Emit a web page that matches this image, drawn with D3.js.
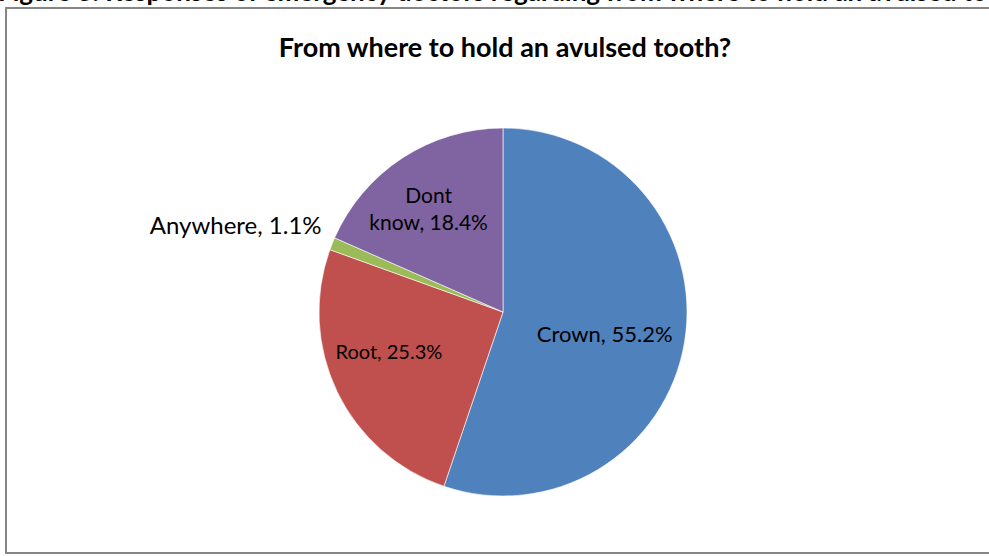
<!DOCTYPE html>
<html>
<head>
<meta charset="utf-8">
<script src="https://cdn.jsdelivr.net/npm/d3@7"></script>
<style>
  body { margin: 0; background: #fff; }
  svg { display: block; font-family: Lato, "Open Sans", sans-serif; }
</style>
</head>
<body>
<svg id="drawing_region"></svg>
<script>
// values
const categories = ["Crown", "Root", "Anywhere", "Dont know"];
const percents = [55.2, 25.3, 1.1, 18.4];
const colors = ["#4f81bd", "#c0504d", "#9bbb59", "#8064a2"];

const chartTitle = "From where to hold an avulsed tooth?";
const figureCaption = "Figure 3: Responses of emergency doctors regarding from where to hold an avulsed tooth";

class PieChart {

    constructor( config, data ) {
        this.config = config;
        this.data = data;
        this.init();
    }

    init() {
        let self = this;

        self.svg = d3.select( self.config.parent )
            .attr('width', self.config.width)
            .attr('height', self.config.height);

        // caption of the document page, cut off at the top edge
        self.svg.append('text')
            .attr('x', -2)
            .attr('y', 1)
            .attr('font-weight', 'bold')
            .attr('font-size', '26px')
            .text(figureCaption);

        // chart area border
        self.svg.append('rect')
            .attr('x', 6)
            .attr('y', 8)
            .attr('width', 1000)
            .attr('height', 545)
            .attr('fill', 'none')
            .attr('stroke', '#868686')
            .attr('stroke-width', 2);

        self.chart = self.svg.append('g')
            .attr('transform', `translate(${self.config.cx}, ${self.config.cy})`);

        self.pie = d3.pie()
            .sort(null)
            .value(d => d.value);

        self.arc = d3.arc()
            .innerRadius(0)
            .outerRadius(self.config.radius);
    }

    render() {
        let self = this;
        const r = self.config.radius;

        self.svg.append('text')
            .attr('x', self.config.cx + 2)
            .attr('y', 57)
            .attr('text-anchor', 'middle')
            .attr('font-weight', 'bold')
            .attr('font-size', '27px')
            .text(chartTitle);

        const arcs = self.pie( self.data );

        self.chart.selectAll('path')
            .data(arcs)
            .join('path')
            .attr('d', self.arc)
            .attr('fill', d => d.data.color)
            .attr('stroke', '#fff')
            .attr('stroke-width', 0.6);

        self.chart.selectAll('text.label')
            .data(arcs)
            .join('text')
            .attr('class', 'label')
            .attr('fill', '#000')
            .each(function(d, i) {
                const lp = self.config.labels[i];
                const a = (d.startAngle + d.endAngle) / 2;
                const x = Math.sin(a) * r * lp.k + (lp.dx || 0);
                const y = -Math.cos(a) * r * lp.k + (lp.dy || 0);
                const t = d3.select(this)
                    .attr('text-anchor', lp.anchor)
                    .attr('font-size', lp.size + 'px');
                const lines = lp.wrap
                    ? [d.data.name.split(' ')[0], d.data.name.split(' ')[1] + ', ' + d.data.value + '%']
                    : [d.data.name + ', ' + d.data.value + '%'];
                const lh = 27;
                lines.forEach((s, j) => {
                    t.append('tspan')
                        .attr('x', x)
                        .attr('y', y + (j - (lines.length - 1) / 2) * lh)
                        .attr('dy', '0.35em')
                        .text(s);
                });
            });
    }
}

const data = categories.map((c, i) => ({ name: c, value: percents[i], color: colors[i] }));

const config = {
    parent: '#drawing_region',
    width: 989,
    height: 556,
    cx: 503,
    cy: 312,
    radius: 184,
    labels: [
        { k: 0.56, anchor: 'middle', size: 22, dy: 6 },
        { k: 0.64, anchor: 'middle', size: 20, dx: -8, dy: -11 },
        { k: 1.05, anchor: 'end', size: 24, dx: -2, dy: -15 },
        { k: 0.66, anchor: 'middle', size: 21, dx: -8, dy: -1, wrap: true }
    ]
};

const pie_chart = new PieChart( config, data );
pie_chart.render();
</script>
</body>
</html>
